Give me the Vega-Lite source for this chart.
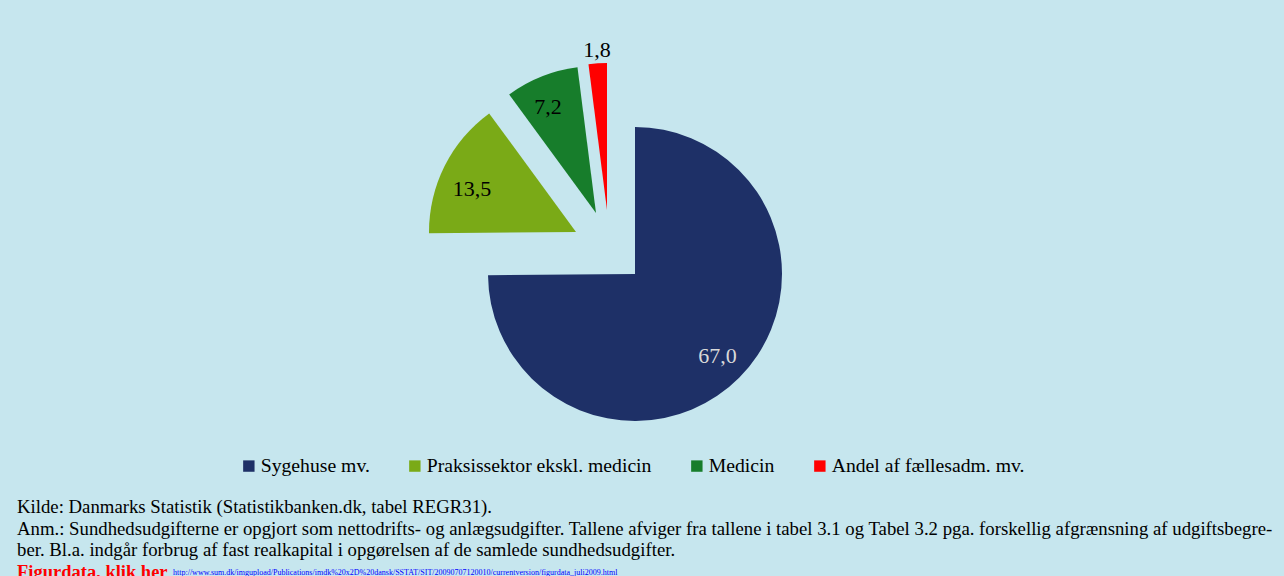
{
  "$schema": "https://vega.github.io/schema/vega-lite/v6.json",
  "width": 1236,
  "height": 294,
  "autosize": {"type": "none"},
  "padding": {"left": 17, "top": 127, "right": 31, "bottom": 155},
  "background": "#C6E6EE",
  "config": {"view": {"stroke": null}},
  "title": {
    "text": [
      "Kilde: Danmarks Statistik (Statistikbanken.dk, tabel REGR31).",
      "Anm.: Sundhedsudgifterne er opgjort som nettodrifts- og anlægsudgifter. Tallene afviger fra tallene i tabel 3.1 og Tabel 3.2 pga. forskellig afgrænsning af udgiftsbegre-",
      "ber. Bl.a. indgår forbrug af fast realkapital i opgørelsen af de samlede sundhedsudgifter."
    ],
    "subtitle": "Figurdata, klik her",
    "orient": "bottom",
    "anchor": "start",
    "frame": "group",
    "offset": -79,
    "font": "Liberation Serif",
    "fontSize": 18.75,
    "fontWeight": "normal",
    "color": "#000000",
    "lineHeight": 21.5,
    "subtitleFont": "Liberation Serif",
    "subtitleFontSize": 18.5,
    "subtitleFontWeight": "bold",
    "subtitleColor": "#FF0000",
    "subtitlePadding": 3
  },
  "data": {
    "values": [
      {"cat": "Sygehuse mv.", "value": 67.0, "label": "67,0", "order": 1},
      {"cat": "Praksissektor ekskl. medicin", "value": 13.5, "label": "13,5", "order": 2},
      {"cat": "Medicin", "value": 7.2, "label": "7,2", "order": 3},
      {"cat": "Andel af fællesadm. mv.", "value": 1.8, "label": "1,8", "order": 4}
    ]
  },
  "layer": [
    {
      "encoding": {
        "theta": {"field": "value", "type": "quantitative", "stack": true},
        "order": {"field": "order", "type": "quantitative"}
      },
      "layer": [
        {
          "mark": {"type": "arc"},
          "encoding": {
            "color": {
              "field": "cat", "type": "nominal",
              "scale": {
                "domain": ["Sygehuse mv.", "Praksissektor ekskl. medicin", "Medicin", "Andel af fællesadm. mv."],
                "range": ["#1E3067", "#7AAA17", "#177D2B", "#FF0000"]
              },
              "legend": {
                "title": null,
                "orient": "none",
                "direction": "horizontal",
                "legendX": 222,
                "legendY": 329,
                "symbolType": "square",
                "symbolSize": 130,
                "symbolStrokeWidth": 0,
                "symbolOpacity": 1,
                "labelFont": "Liberation Serif",
                "labelFontSize": 19.7,
                "labelColor": "#000000",
                "labelOffset": 2,
                "columnPadding": 35,
                "labelLimit": 400
              }
            },
            "opacity": {"condition": {"test": "datum.cat === 'Sygehuse mv.'", "value": 1}, "value": 0}
          }
        },
        {
          "mark": {"type": "arc", "xOffset": -59, "yOffset": -42},
          "encoding": {
            "color": {"field": "cat", "type": "nominal"},
            "opacity": {"condition": {"test": "datum.cat === 'Praksissektor ekskl. medicin'", "value": 1}, "value": 0}
          }
        },
        {
          "mark": {"type": "arc", "xOffset": -39, "yOffset": -61},
          "encoding": {
            "color": {"field": "cat", "type": "nominal"},
            "opacity": {"condition": {"test": "datum.cat === 'Medicin'", "value": 1}, "value": 0}
          }
        },
        {
          "mark": {"type": "arc", "xOffset": -28, "yOffset": -64},
          "encoding": {
            "color": {"field": "cat", "type": "nominal"},
            "opacity": {"condition": {"test": "datum.cat === 'Andel af fællesadm. mv.'", "value": 1}, "value": 0}
          }
        },
        {
          "mark": {"type": "text", "radius": 116, "font": "Liberation Serif", "fontSize": 22, "color": "#D9D9D9"},
          "encoding": {
            "text": {"field": "label"},
            "opacity": {"condition": {"test": "datum.cat === 'Sygehuse mv.'", "value": 1}, "value": 0}
          }
        },
        {
          "mark": {"type": "text", "radius": 112, "xOffset": -63, "yOffset": -35, "font": "Liberation Serif", "fontSize": 22, "color": "#000000"},
          "encoding": {
            "text": {"field": "label"},
            "opacity": {"condition": {"test": "datum.cat === 'Praksissektor ekskl. medicin'", "value": 1}, "value": 0}
          }
        },
        {
          "mark": {"type": "text", "radius": 116, "xOffset": -44, "yOffset": -59, "font": "Liberation Serif", "fontSize": 22, "color": "#000000"},
          "encoding": {
            "text": {"field": "label"},
            "opacity": {"condition": {"test": "datum.cat === 'Medicin'", "value": 1}, "value": 0}
          }
        },
        {
          "mark": {"type": "text", "radius": 160, "xOffset": -28, "yOffset": -64, "font": "Liberation Serif", "fontSize": 22, "color": "#000000"},
          "encoding": {
            "text": {"field": "label"},
            "opacity": {"condition": {"test": "datum.cat === 'Andel af fællesadm. mv.'", "value": 1}, "value": 0}
          }
        }
      ]
    },
    {
      "data": {"values": [{"url": "http://www.sum.dk/imgupload/Publications/imdk%20x2D%20dansk/SSTAT/SIT/20090707120010/currentversion/figurdata_juli2009.html"}]},
      "mark": {"type": "text", "x": 156, "y": 446, "align": "left", "baseline": "middle", "font": "Liberation Serif", "fontSize": 8, "color": "#0000FF"},
      "encoding": {"text": {"field": "url"}}
    }
  ]
}
